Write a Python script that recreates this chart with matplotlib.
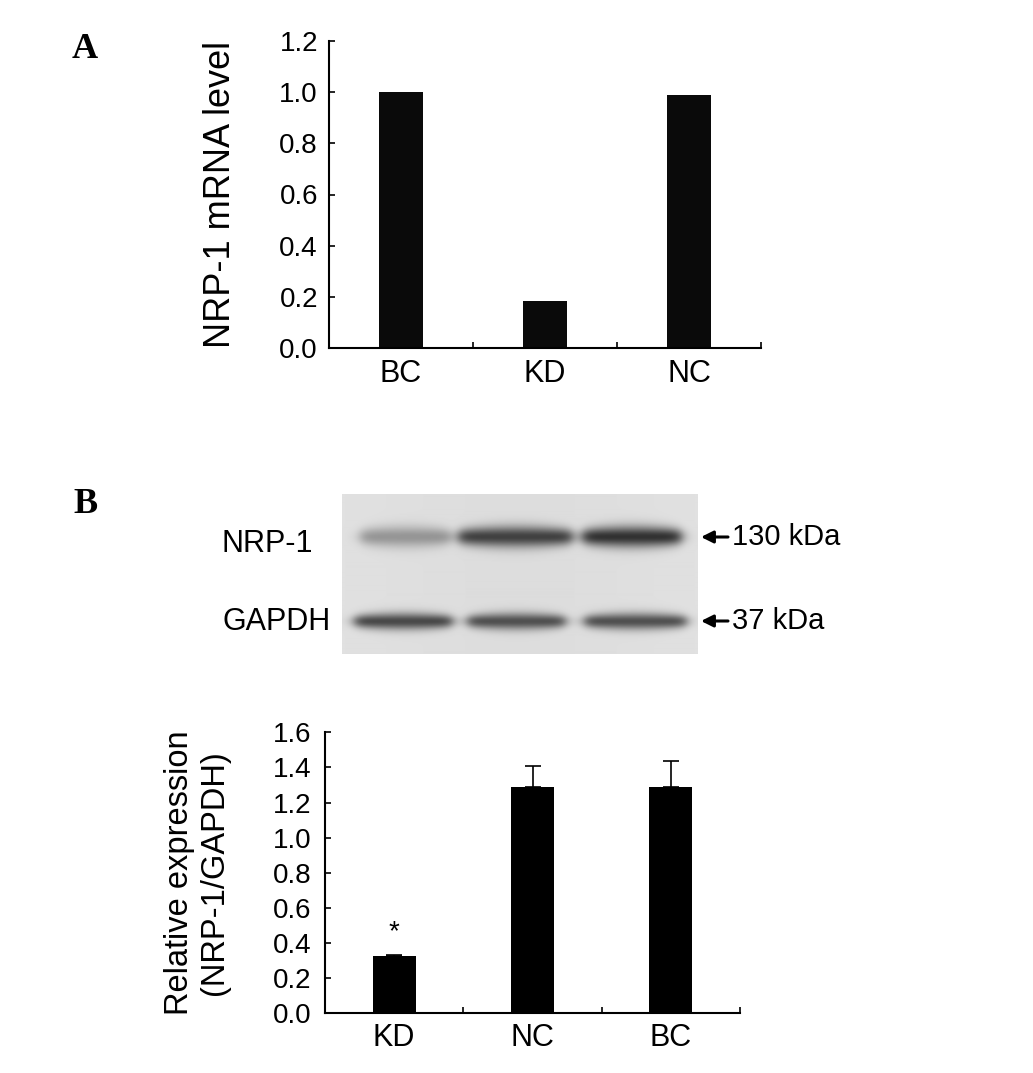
import numpy as np
import matplotlib
matplotlib.use("Agg")
import matplotlib.pyplot as plt

plt.rcParams['font.family'] = ['Liberation Sans', 'DejaVu Sans']

W, H = 1033, 1073

# panel A: qPCR
mrna_groups = ["BC", "KD", "NC"]
mrna_level = [1.0, 0.184, 0.988]

# panel B: densitometry
wb_groups = ["KD", "NC", "BC"]
wb_ratio = [0.327, 1.29, 1.29]
wb_err = [0.006, 0.116, 0.149]
wb_star = ["*", "", ""]

# blot band darkness per lane (KD, NC, BC)
nrp1_band = [0.38, 0.82, 0.9]
gapdh_band = [0.78, 0.74, 0.74]

fig = plt.figure(figsize=(W / 100, H / 100), dpi=100)


def px_axes(left, top, right, bottom):
    return fig.add_axes([left / W, 1 - bottom / H, (right - left) / W, (bottom - top) / H])


def style_bars(ax, labels, ymax, ystep, ypad, xpad):
    n = len(labels)
    ax.set_xlim(-0.5, n - 0.5)
    ax.set_ylim(0, ymax)
    for s in ['top', 'right']:
        ax.spines[s].set_visible(False)
    for s in ['left', 'bottom']:
        ax.spines[s].set_linewidth(1.5)
    ax.set_xticks(np.arange(n + 1) - 0.5)
    ax.set_xticklabels([])
    ax.set_xticks(np.arange(n), minor=True)
    ax.set_xticklabels(labels, minor=True)
    ax.tick_params(axis='x', which='major', direction='in', length=4, width=1.2)
    ax.tick_params(axis='x', which='minor', length=0, pad=xpad, labelsize=22)
    yt = np.round(np.arange(0, ymax + 1e-9, ystep), 1)
    ax.set_yticks(yt)
    ax.set_yticklabels([f"{v:.1f}" for v in yt])
    ax.tick_params(axis='y', direction='in', length=4, width=1.2, labelsize=20, pad=ypad)


# ---- A ----
axA = px_axes(329, 41, 761, 348)
axA.bar(np.arange(len(mrna_groups)), mrna_level, width=0.3, color='#0a0a0a')
style_bars(axA, mrna_groups, 1.2, 0.2, 8, 8)
fig.text(221 / W, 1 - 194 / H, "NRP-1 mRNA level", rotation=90, ha='center', va='center', fontsize=26)
fig.text(72 / W, 1 - 58 / H, "A", family='Liberation Serif', weight='bold', fontsize=26, va='baseline')

# ---- B: blot ----
fig.text(73 / W, 1 - 513 / H, "B", family='Liberation Serif', weight='bold', fontsize=26, va='baseline')

bw, bh = 356, 160
yy, xx = np.mgrid[0:bh, 0:bw]
img = np.full((bh, bw), 0.885)
img -= 0.02 * np.exp(-((xx - bw / 2) / 160.0) ** 2)

def band_layer(yc, sig, spans, darkness):
    out = np.zeros((bh, bw))
    for (x0, x1), d in zip(spans, darkness):
        prof_x = 0.5 * (np.tanh((xx - x0) / 7.0) - np.tanh((xx - x1) / 7.0))
        mid = (x0 + x1) / 2
        sig_local = sig * (1 - 0.25 * ((xx - mid) / ((x1 - x0) / 2)) ** 2).clip(0.4, 1)
        prof_y = np.exp(-0.5 * ((yy - yc) / sig_local) ** 2)
        out += d * prof_x * prof_y
    return out

nrp_spans = [(18, 108), (116, 230), (240, 339)]
gap_spans = [(12, 110), (125, 223), (242, 344)]
dark = band_layer(43, 7.5, nrp_spans, nrp1_band) + band_layer(127, 6.0, gap_spans, gapdh_band)
img = img - (img - 0.12) * dark.clip(0, 1)

axBlot = px_axes(342, 494, 698, 654)
axBlot.imshow(img, cmap='gray', vmin=0, vmax=1, aspect='auto', interpolation='bilinear')
axBlot.axis('off')

fig.text(221 / W, 1 - 544 / H, "NRP-1", fontsize=22, ha='left', va='center')
fig.text(222 / W, 1 - 622 / H, "GAPDH", fontsize=22, ha='left', va='center')
for y, lab in [(537, "130 kDa"), (621, "37 kDa")]:
    axBlot.annotate('', xy=(701, H - y), xytext=(728, H - y), xycoords='figure pixels',
                    textcoords='figure pixels', annotation_clip=False,
                    arrowprops=dict(arrowstyle='-|>,head_length=0.6,head_width=0.3',
                                    mutation_scale=12, color='black', lw=2.2,
                                    shrinkA=0, shrinkB=0))
    fig.text(732 / W, 1 - y / H, lab, fontsize=21, ha='left', va='center')

# ---- B: bars ----
axB = px_axes(325, 732.4, 740, 1013)
xb = np.arange(len(wb_groups))
axB.bar(xb, wb_ratio, width=0.31, color='black')
axB.errorbar(xb, wb_ratio, yerr=[np.zeros(len(wb_err)), wb_err], fmt='none',
             ecolor='black', elinewidth=1.2, capsize=5.5, capthick=1.2)
for x, v, e, s in zip(xb, wb_ratio, wb_err, wb_star):
    if s:
        axB.text(x, v + e + 0.13, s, ha='center', va='center', fontsize=20)
style_bars(axB, wb_groups, 1.6, 0.2, 10, 7)
fig.text(197 / W, 1 - 873 / H, "Relative expression\n(NRP-1/GAPDH)", rotation=90,
         ha='center', va='center', multialignment='center', fontsize=23.5, linespacing=1.15)

fig.savefig("out.png", dpi=100)
